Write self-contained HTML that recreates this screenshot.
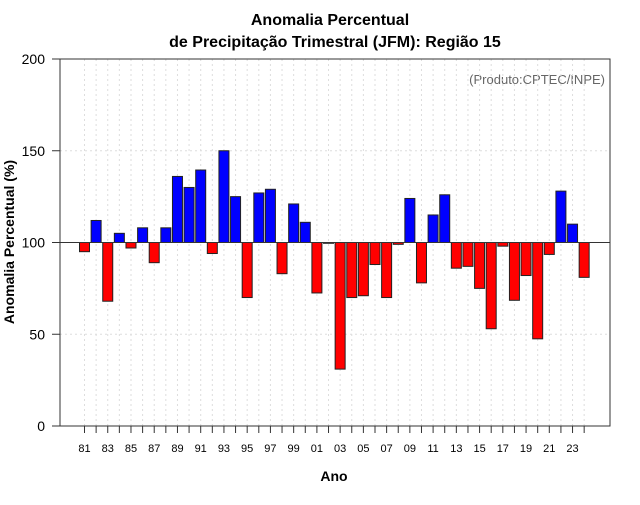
<!DOCTYPE html>
<html><head><meta charset="utf-8"><style>
body{margin:0;background:#fff;}
svg text{font-family:"Liberation Sans",Arial,sans-serif;}
</style></head><body>
<svg id="chart" width="640" height="500" xmlns="http://www.w3.org/2000/svg">
<text x="330" y="25" text-anchor="middle" font-size="16" font-weight="bold">Anomalia Percentual</text>
<text x="335" y="47" text-anchor="middle" font-size="16" font-weight="bold">de Precipitação Trimestral (JFM): Região 15</text>
<text x="605" y="84" text-anchor="end" font-size="13" fill="#666">(Produto:CPTEC/INPE)</text>
<text x="334" y="481" text-anchor="middle" font-size="14" font-weight="bold">Ano</text>
<text transform="translate(14,242) rotate(-90)" text-anchor="middle" font-size="14" font-weight="bold">Anomalia Percentual (%)</text>
<g id="grid"></g><g id="bars"></g><g id="axes"></g>
</svg>
<script>
const years=[1981,1982,1983,1984,1985,1986,1987,1988,1989,1990,1991,1992,1993,1994,1995,1996,1997,1998,1999,2000,2001,2002,2003,2004,2005,2006,2007,2008,2009,2010,2011,2012,2013,2014,2015,2016,2017,2018,2019,2020,2021,2022,2023,2024];
const values=[95,112,68,105,97,108,89,108,136,130,139.5,94,150,125,70,127,129,83,121,111,72.5,99.7,31,70,71,88,70,99,124,78,115,126,86,87,75,53,98,68.5,82,47.5,93.5,128,110,81];
const yTicks=[0,50,100,150,200];
const NS="http://www.w3.org/2000/svg";
const L=60,R=610,T=59,B=426;
const y=v=>B-(v/200)*(B-T);
const x=i=>84.5+i*11.62;
function mk(tag,attrs,parent){const e=document.createElementNS(NS,tag);for(const k in attrs)e.setAttribute(k,attrs[k]);parent.appendChild(e);return e;}
const g=document.getElementById('grid'),gb=document.getElementById('bars'),ga=document.getElementById('axes');
yTicks.forEach(t=>{
 const l=mk('line',{x1:L,x2:R,y1:y(t),y2:y(t),stroke:'#ddd','stroke-dasharray':'2,3'},g);
 
 
 const tk=mk('line',{x1:52,x2:L,y1:y(t),y2:y(t),stroke:'#333'},ga);
 
 
 const tx=mk('text',{x:45,y:y(t)+5,'text-anchor':'end','font-size':14},ga);
 tx.textContent=t;
 
 
});
years.forEach((yr,i)=>{
 const cx=x(i);
 const gl=mk('line',{x1:cx,x2:cx,y1:T,y2:B,stroke:'#ddd','stroke-dasharray':'2,3'},g);
 
 
 const v=values[i];
 const top=Math.min(y(v),y(100)),h=Math.max(Math.abs(y(v)-y(100)),0.8);
 const r=mk('rect',{x:cx-5,y:top,width:10,height:h,fill:v>=100?'#0000ff':'#ff0000',stroke:'#222','stroke-width':1},gb);
 
 
 const tk=mk('line',{x1:cx,x2:cx,y1:B,y2:B+7,stroke:'#333'},ga);
 
 
 if(i%2===0){
  const tx=mk('text',{x:cx,y:452,'text-anchor':'middle','font-size':11},ga);
  tx.textContent=String(yr).slice(2);
  
  
 }
});
const ref=mk('line',{x1:L,x2:R,y1:y(100),y2:y(100),stroke:'#333'},ga);


const box=mk('rect',{x:L,y:T,width:R-L,height:B-T,fill:'none',stroke:'#333'},ga);


</script>
</body></html>
